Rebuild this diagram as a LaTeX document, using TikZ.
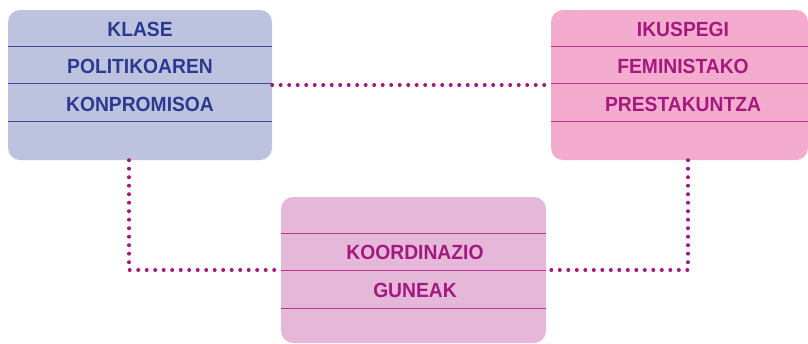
\documentclass[tikz,border=0pt]{standalone}
\usepackage{fontspec}
\setmainfont{Liberation Sans}
\newfontfamily\lblfont[FakeStretch=0.94]{Liberation Sans}
\definecolor{bluefill}{RGB}{189,195,222}
\definecolor{bluetext}{RGB}{43,57,144}
\definecolor{bluerule}{RGB}{58,74,154}
\definecolor{pinkfill}{RGB}{244,172,206}
\definecolor{mauvefill}{RGB}{229,183,216}
\definecolor{magtext}{RGB}{163,25,127}
\definecolor{magrule}{RGB}{190,50,145}
\tikzset{
  box/.style={rounded corners=12pt, draw=none, inner sep=0pt},
  lbl/.style={font=\lblfont\fontsize{20.5}{21}\selectfont\bfseries, inner sep=0pt, text height=14.5pt, text depth=0pt},
  rulel/.style={line width=1.2pt},
  dotline/.style={draw=magtext, line width=4pt, line cap=round, dash pattern=on 0pt off 8.5pt},
}
\begin{document}
\begin{tikzpicture}[x=1pt,y=-1pt]
\useasboundingbox (0,0) rectangle (808,343);
% boxes
\node[box, fill=bluefill, minimum width=264pt, minimum height=150pt] (b1) at (140,85) {};
\node[box, fill=pinkfill, minimum width=257pt, minimum height=150pt] (b2) at (679.5,85) {};
\node[box, fill=mauvefill, minimum width=265pt, minimum height=146pt] (b3) at (413.5,270) {};
% rules
\foreach \d in {37,74,112}{
  \draw[rulel, bluerule] ([yshift=-\d pt]b1.north west) -- ([yshift=-\d pt]b1.north east);
  \draw[rulel, magrule] ([yshift=-\d pt]b2.north west) -- ([yshift=-\d pt]b2.north east);
  \draw[rulel, magrule] ([yshift=-\d pt]b3.north west) -- ([yshift=-\d pt]b3.north east);
}
% labels
\node[lbl, text=bluetext] (k1) at (140,29) {KLASE};
\node[lbl, text=bluetext] (k2) at (140,66) {POLITIKOAREN};
\node[lbl, text=bluetext] (k3) at (140,104) {KONPROMISOA};
\node[lbl, text=magtext] (i1) at (683,29) {IKUSPEGI};
\node[lbl, text=magtext] (i2) at (683,66) {FEMINISTAKO};
\node[lbl, text=magtext] (i3) at (683,104) {PRESTAKUNTZA};
\node[lbl, text=magtext] (g1) at (415,252) {KOORDINAZIO};
\node[lbl, text=magtext] (g2) at (415,290) {GUNEAK};
% connectors
\coordinate (c1) at ([xshift=-11pt]b1.south);
\coordinate (c2) at ([xshift=8.5pt]b2.south);
\draw[dotline] (b1.east) -- (b2.west);
\draw[dotline] (c1) |- (b3.west);
\draw[dotline] (c2) |- (b3.east);
\end{tikzpicture}
\end{document}
